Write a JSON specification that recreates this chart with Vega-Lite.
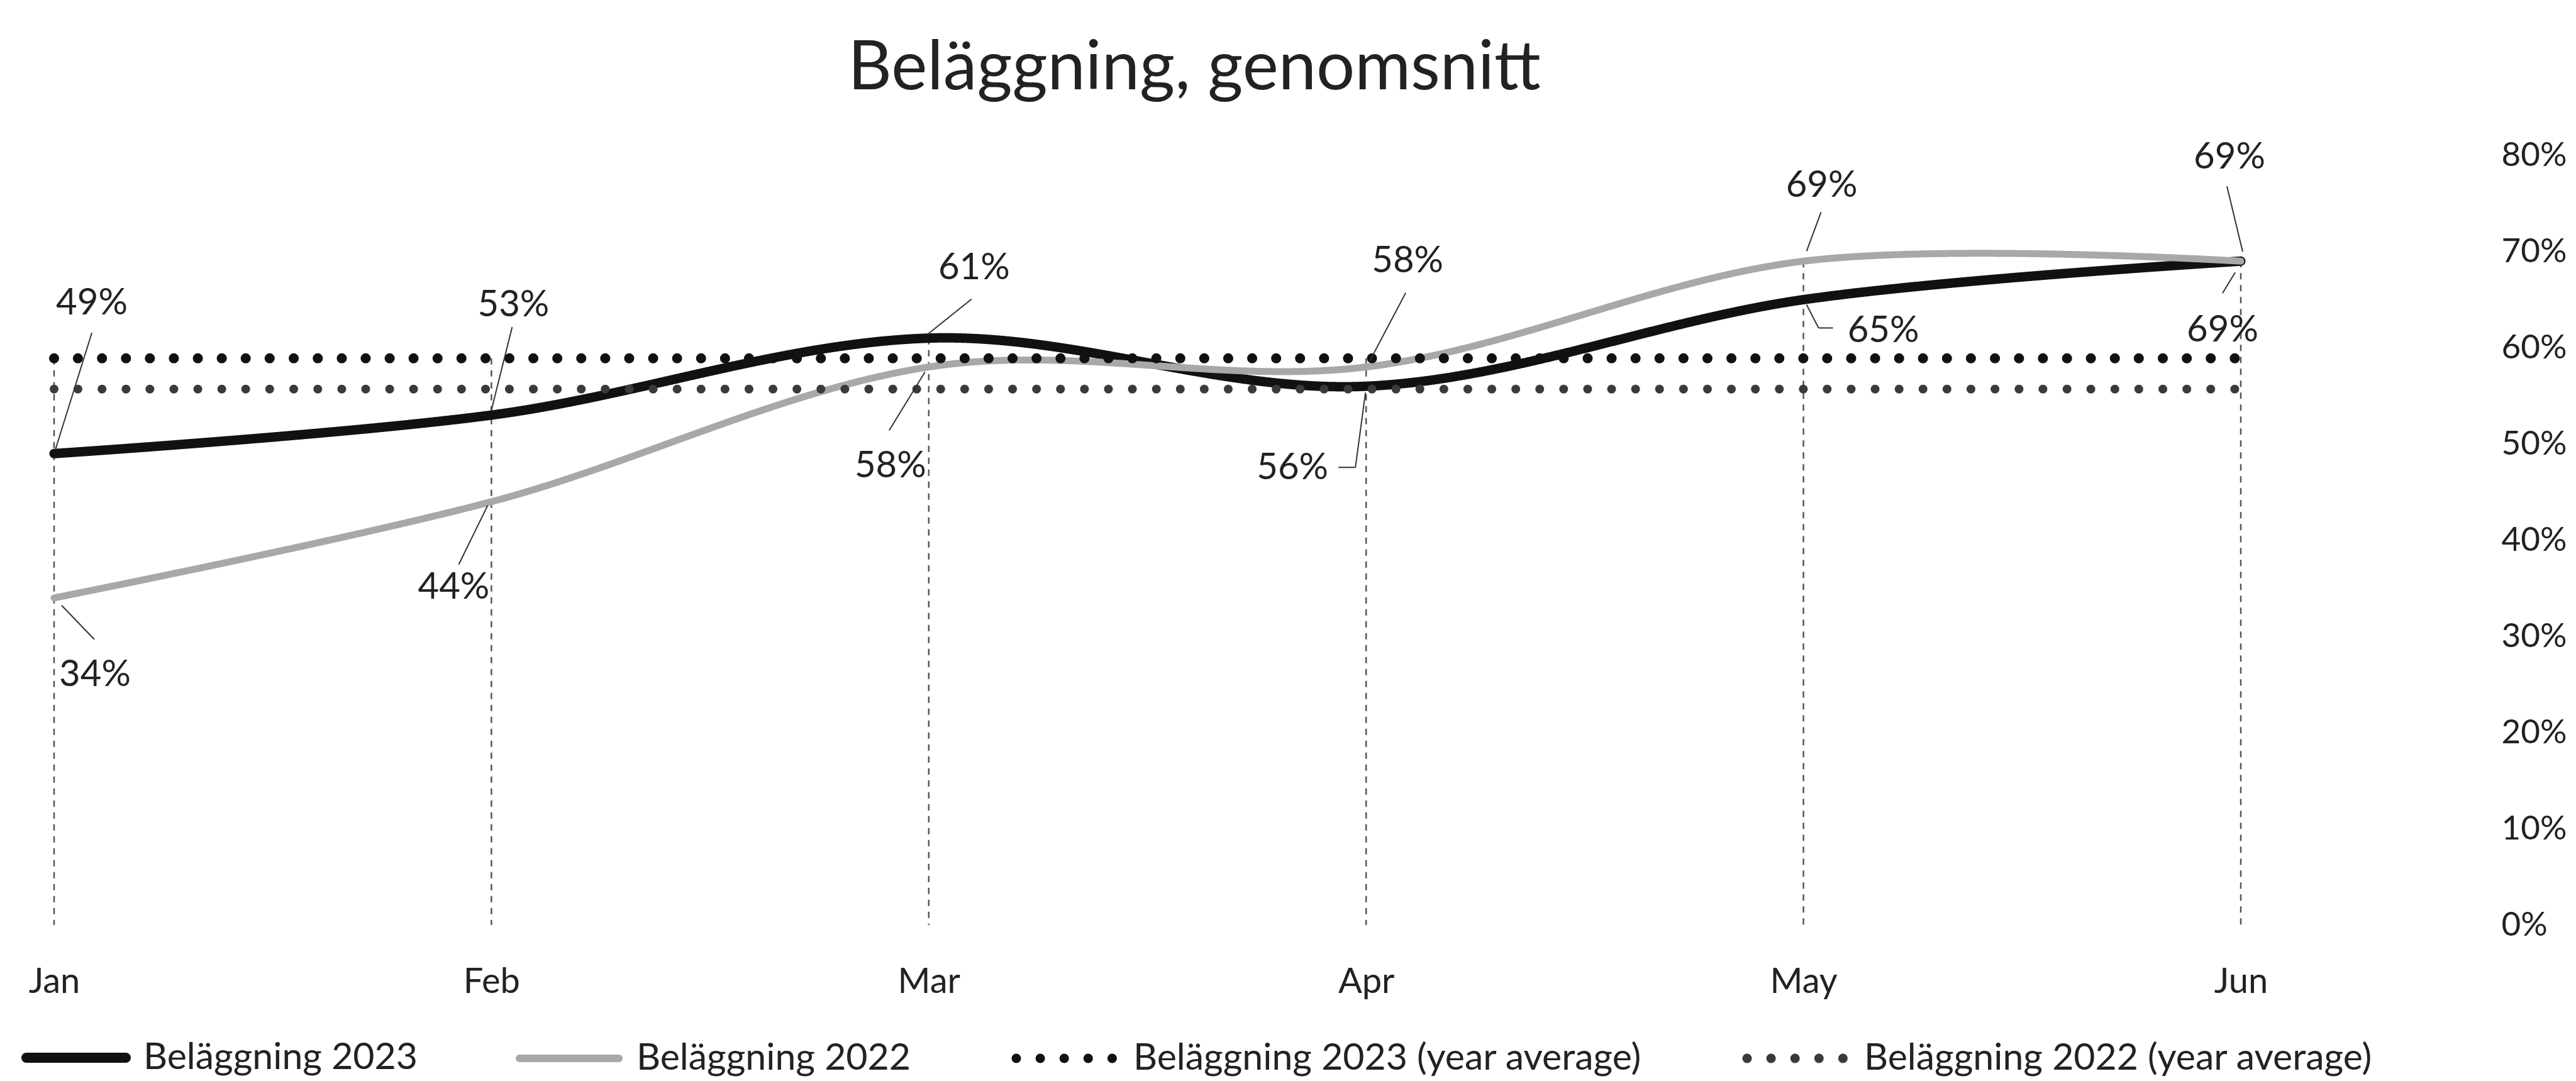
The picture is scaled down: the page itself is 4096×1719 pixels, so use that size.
{
  "$schema": "https://vega.github.io/schema/vega-lite/v6.json",
  "width": 3880,
  "height": 1224,
  "autosize": {"type": "none"},
  "padding": {"left": 0, "top": 247, "right": 216, "bottom": 248},
  "background": "white",
  "config": {"view": {"stroke": null}, "font": "Lato"},
  "title": {
    "text": "Beläggning, genomsnitt",
    "font": "Lato",
    "fontSize": 108,
    "fontWeight": "normal",
    "color": "#222222",
    "anchor": "middle",
    "dx": -41,
    "dy": 114,
    "baseline": "alphabetic",
    "offset": 85
  },
  "data": {
    "values": [
      {"month": "Jan", "series": "Beläggning 2023", "value": 0.49},
      {"month": "Feb", "series": "Beläggning 2023", "value": 0.53},
      {"month": "Mar", "series": "Beläggning 2023", "value": 0.61},
      {"month": "Apr", "series": "Beläggning 2023", "value": 0.56},
      {"month": "May", "series": "Beläggning 2023", "value": 0.65},
      {"month": "Jun", "series": "Beläggning 2023", "value": 0.69},
      {"month": "Jan", "series": "Beläggning 2022", "value": 0.34},
      {"month": "Feb", "series": "Beläggning 2022", "value": 0.44},
      {"month": "Mar", "series": "Beläggning 2022", "value": 0.58},
      {"month": "Apr", "series": "Beläggning 2022", "value": 0.58},
      {"month": "May", "series": "Beläggning 2022", "value": 0.69},
      {"month": "Jun", "series": "Beläggning 2022", "value": 0.69},
      {"month": "Jan", "series": "Beläggning 2023 (year average)", "value": 0.589},
      {"month": "Feb", "series": "Beläggning 2023 (year average)", "value": 0.589},
      {"month": "Mar", "series": "Beläggning 2023 (year average)", "value": 0.589},
      {"month": "Apr", "series": "Beläggning 2023 (year average)", "value": 0.589},
      {"month": "May", "series": "Beläggning 2023 (year average)", "value": 0.589},
      {"month": "Jun", "series": "Beläggning 2023 (year average)", "value": 0.589},
      {"month": "Jan", "series": "Beläggning 2022 (year average)", "value": 0.557},
      {"month": "Feb", "series": "Beläggning 2022 (year average)", "value": 0.557},
      {"month": "Mar", "series": "Beläggning 2022 (year average)", "value": 0.557},
      {"month": "Apr", "series": "Beläggning 2022 (year average)", "value": 0.557},
      {"month": "May", "series": "Beläggning 2022 (year average)", "value": 0.557},
      {"month": "Jun", "series": "Beläggning 2022 (year average)", "value": 0.557}
    ]
  },
  "encoding": {
    "x": {
      "field": "month",
      "type": "ordinal",
      "sort": null,
      "scale": {"type": "point", "domain": ["Jan", "Feb", "Mar", "Apr", "May", "Jun"], "range": [86, 3563], "padding": 0},
      "axis": {
        "orient": "bottom",
        "title": null,
        "ticks": false,
        "domain": false,
        "grid": false,
        "labelAngle": 0,
        "labelFont": "Lato",
        "labelFontSize": 56,
        "labelColor": "#222222",
        "labelPadding": 90,
        "labelBaseline": "middle"
      }
    },
    "y": {
      "field": "value",
      "type": "quantitative",
      "scale": {"domain": [0, 0.8], "nice": false, "zero": true},
      "axis": {
        "orient": "right",
        "title": null,
        "ticks": false,
        "domain": false,
        "grid": false,
        "values": [0, 0.1, 0.2, 0.3, 0.4, 0.5, 0.6, 0.7, 0.8],
        "format": ".0%",
        "labelFont": "Lato",
        "labelFontSize": 53,
        "labelColor": "#222222",
        "labelAlign": "left",
        "labelPadding": 97
      }
    }
  },
  "layer": [
    {
      "transform": [{"aggregate": [{"op": "max", "field": "value", "as": "top"}], "groupby": ["month"]}],
      "mark": {"type": "rule", "color": "#555555", "strokeWidth": 2.5, "strokeDash": [10, 9]},
      "encoding": {
        "y": {
          "field": "top",
          "type": "quantitative",
          "axis": {
            "orient": "right",
            "title": null,
            "ticks": false,
            "domain": false,
            "grid": false,
            "values": [0, 0.1, 0.2, 0.3, 0.4, 0.5, 0.6, 0.7, 0.8],
            "format": ".0%",
            "labelFont": "Lato",
            "labelFontSize": 53,
            "labelColor": "#222222",
            "labelAlign": "left",
            "labelPadding": 97
          }
        },
        "y2": {"datum": 0}
      }
    },
    {
      "mark": {"type": "line", "interpolate": "cardinal", "tension": 0, "strokeCap": "round", "strokeJoin": "round"},
      "encoding": {
        "color": {
          "field": "series",
          "type": "nominal",
          "scale": {
            "domain": ["Beläggning 2023", "Beläggning 2022", "Beläggning 2023 (year average)", "Beläggning 2022 (year average)"],
            "range": ["#111111", "#a8a8a8", "#111111", "#3a3a3a"]
          },
          "legend": {
            "title": null,
            "orient": "none",
            "legendX": 34,
            "legendY": 1348,
            "direction": "horizontal",
            "symbolType": "stroke",
            "symbolSize": 25000,
            "labelFont": "Lato",
            "labelFontSize": 59,
            "labelColor": "#222222",
            "labelOffset": 20,
            "labelLimit": 3000,
            "columnPadding": 136,
            "encode": {
              "symbols": {
                "update": {
                  "strokeWidth": {"signal": "(datum.value === 'Beläggning 2023' ? 16 : (datum.value === 'Beläggning 2022' ? 12 : 15))"},
                  "strokeCap": {"value": "round"}
                }
              }
            }
          }
        },
        "strokeDash": {
          "field": "series",
          "type": "nominal",
          "scale": {
            "domain": ["Beläggning 2023", "Beläggning 2022", "Beläggning 2023 (year average)", "Beläggning 2022 (year average)"],
            "range": [[1, 0], [1, 0], [0.1, 38], [0.1, 38]]
          },
          "legend": {
            "title": null,
            "orient": "none",
            "legendX": 34,
            "legendY": 1348,
            "direction": "horizontal",
            "symbolType": "stroke",
            "symbolSize": 25000,
            "labelFont": "Lato",
            "labelFontSize": 59,
            "labelColor": "#222222",
            "labelOffset": 20,
            "labelLimit": 3000,
            "columnPadding": 136,
            "encode": {
              "symbols": {
                "update": {
                  "strokeWidth": {"signal": "(datum.value === 'Beläggning 2023' ? 16 : (datum.value === 'Beläggning 2022' ? 12 : 15))"},
                  "strokeCap": {"value": "round"}
                }
              }
            }
          }
        },
        "strokeWidth": {
          "condition": [
            {"test": "datum.series === 'Beläggning 2023'", "value": 15},
            {"test": "datum.series === 'Beläggning 2022'", "value": 11},
            {"test": "datum.series === 'Beläggning 2023 (year average)'", "value": 16}
          ],
          "value": 14
        }
      }
    },
    {
      "transform": [{"filter": "datum.series === 'Beläggning 2023' && datum.month === 'Jan'"}],
      "layer": [
        {"mark": {"type": "rule", "color": "#333333", "strokeWidth": 2, "xOffset": 2, "yOffset": -6, "x2Offset": 60, "y2Offset": -192}, "encoding": {"x2": {"field": "month"}, "y2": {"field": "value"}}},
        {"mark": {"type": "text", "dx": 60, "dy": -238, "font": "Lato", "fontSize": 58, "color": "#222222"}, "encoding": {"text": {"field": "value", "type": "quantitative", "format": ".0%"}}}
      ]
    },
    {
      "transform": [{"filter": "datum.series === 'Beläggning 2022' && datum.month === 'Jan'"}],
      "layer": [
        {"mark": {"type": "rule", "color": "#333333", "strokeWidth": 2, "xOffset": 12, "yOffset": 12, "x2Offset": 64, "y2Offset": 66}, "encoding": {"x2": {"field": "month"}, "y2": {"field": "value"}}},
        {"mark": {"type": "text", "dx": 65, "dy": 123, "font": "Lato", "fontSize": 58, "color": "#222222"}, "encoding": {"text": {"field": "value", "type": "quantitative", "format": ".0%"}}}
      ]
    },
    {
      "transform": [{"filter": "datum.series === 'Beläggning 2023' && datum.month === 'Feb'"}],
      "layer": [
        {"mark": {"type": "rule", "color": "#333333", "strokeWidth": 2, "xOffset": 0, "yOffset": -8, "x2Offset": 33, "y2Offset": -140}, "encoding": {"x2": {"field": "month"}, "y2": {"field": "value"}}},
        {"mark": {"type": "text", "dx": 35, "dy": -174, "font": "Lato", "fontSize": 58, "color": "#222222"}, "encoding": {"text": {"field": "value", "type": "quantitative", "format": ".0%"}}}
      ]
    },
    {
      "transform": [{"filter": "datum.series === 'Beläggning 2022' && datum.month === 'Feb'"}],
      "layer": [
        {"mark": {"type": "rule", "color": "#333333", "strokeWidth": 2, "xOffset": -6, "yOffset": 6, "x2Offset": -52, "y2Offset": 100}, "encoding": {"x2": {"field": "month"}, "y2": {"field": "value"}}},
        {"mark": {"type": "text", "dx": -60, "dy": 137, "font": "Lato", "fontSize": 58, "color": "#222222"}, "encoding": {"text": {"field": "value", "type": "quantitative", "format": ".0%"}}}
      ]
    },
    {
      "transform": [{"filter": "datum.series === 'Beläggning 2023' && datum.month === 'Mar'"}],
      "layer": [
        {"mark": {"type": "rule", "color": "#333333", "strokeWidth": 2, "xOffset": -2, "yOffset": -6, "x2Offset": 68, "y2Offset": -62}, "encoding": {"x2": {"field": "month"}, "y2": {"field": "value"}}},
        {"mark": {"type": "text", "dx": 72, "dy": -111, "font": "Lato", "fontSize": 58, "color": "#222222"}, "encoding": {"text": {"field": "value", "type": "quantitative", "format": ".0%"}}}
      ]
    },
    {
      "transform": [{"filter": "datum.series === 'Beläggning 2022' && datum.month === 'Mar'"}],
      "layer": [
        {"mark": {"type": "rule", "color": "#333333", "strokeWidth": 2, "xOffset": -6, "yOffset": 8, "x2Offset": -63, "y2Offset": 101}, "encoding": {"x2": {"field": "month"}, "y2": {"field": "value"}}},
        {"mark": {"type": "text", "dx": -61, "dy": 158, "font": "Lato", "fontSize": 58, "color": "#222222"}, "encoding": {"text": {"field": "value", "type": "quantitative", "format": ".0%"}}}
      ]
    },
    {
      "transform": [{"filter": "datum.series === 'Beläggning 2022' && datum.month === 'Apr'"}],
      "layer": [
        {"mark": {"type": "rule", "color": "#333333", "strokeWidth": 2, "xOffset": 6, "yOffset": -10, "x2Offset": 63, "y2Offset": -118}, "encoding": {"x2": {"field": "month"}, "y2": {"field": "value"}}},
        {"mark": {"type": "text", "dx": 66, "dy": -168, "font": "Lato", "fontSize": 58, "color": "#222222"}, "encoding": {"text": {"field": "value", "type": "quantitative", "format": ".0%"}}}
      ]
    },
    {
      "transform": [{"filter": "datum.series === 'Beläggning 2023' && datum.month === 'Apr'"}],
      "layer": [
        {"mark": {"type": "rule", "color": "#333333", "strokeWidth": 2, "xOffset": -1, "yOffset": 10, "x2Offset": -17, "y2Offset": 129}, "encoding": {"x2": {"field": "month"}, "y2": {"field": "value"}}},
        {"mark": {"type": "rule", "color": "#333333", "strokeWidth": 2, "xOffset": -17, "yOffset": 129, "x2Offset": -44, "y2Offset": 129}, "encoding": {"x2": {"field": "month"}, "y2": {"field": "value"}}},
        {"mark": {"type": "text", "dx": -117, "dy": 131, "font": "Lato", "fontSize": 58, "color": "#222222"}, "encoding": {"text": {"field": "value", "type": "quantitative", "format": ".0%"}}}
      ]
    },
    {
      "transform": [{"filter": "datum.series === 'Beläggning 2022' && datum.month === 'May'"}],
      "layer": [
        {"mark": {"type": "rule", "color": "#333333", "strokeWidth": 2, "xOffset": 5, "yOffset": -16, "x2Offset": 28, "y2Offset": -78}, "encoding": {"x2": {"field": "month"}, "y2": {"field": "value"}}},
        {"mark": {"type": "text", "dx": 29, "dy": -119, "font": "Lato", "fontSize": 58, "color": "#222222"}, "encoding": {"text": {"field": "value", "type": "quantitative", "format": ".0%"}}}
      ]
    },
    {
      "transform": [{"filter": "datum.series === 'Beläggning 2023' && datum.month === 'May'"}],
      "layer": [
        {"mark": {"type": "rule", "color": "#333333", "strokeWidth": 2, "xOffset": 5, "yOffset": 8, "x2Offset": 24, "y2Offset": 45}, "encoding": {"x2": {"field": "month"}, "y2": {"field": "value"}}},
        {"mark": {"type": "rule", "color": "#333333", "strokeWidth": 2, "xOffset": 24, "yOffset": 45, "x2Offset": 47, "y2Offset": 45}, "encoding": {"x2": {"field": "month"}, "y2": {"field": "value"}}},
        {"mark": {"type": "text", "dx": 127, "dy": 50, "font": "Lato", "fontSize": 58, "color": "#222222"}, "encoding": {"text": {"field": "value", "type": "quantitative", "format": ".0%"}}}
      ]
    },
    {
      "transform": [{"filter": "datum.series === 'Beläggning 2022' && datum.month === 'Jun'"}],
      "layer": [
        {"mark": {"type": "rule", "color": "#333333", "strokeWidth": 2, "xOffset": 3, "yOffset": -15, "x2Offset": -22, "y2Offset": -119}, "encoding": {"x2": {"field": "month"}, "y2": {"field": "value"}}},
        {"mark": {"type": "text", "dx": -18, "dy": -164, "font": "Lato", "fontSize": 58, "color": "#222222"}, "encoding": {"text": {"field": "value", "type": "quantitative", "format": ".0%"}}}
      ]
    },
    {
      "transform": [{"filter": "datum.series === 'Beläggning 2023' && datum.month === 'Jun'"}],
      "layer": [
        {"mark": {"type": "rule", "color": "#333333", "strokeWidth": 2, "xOffset": -9, "yOffset": 18, "x2Offset": -29, "y2Offset": 51}, "encoding": {"x2": {"field": "month"}, "y2": {"field": "value"}}},
        {"mark": {"type": "text", "dx": -29, "dy": 111, "font": "Lato", "fontSize": 58, "color": "#222222"}, "encoding": {"text": {"field": "value", "type": "quantitative", "format": ".0%"}}}
      ]
    }
  ]
}
